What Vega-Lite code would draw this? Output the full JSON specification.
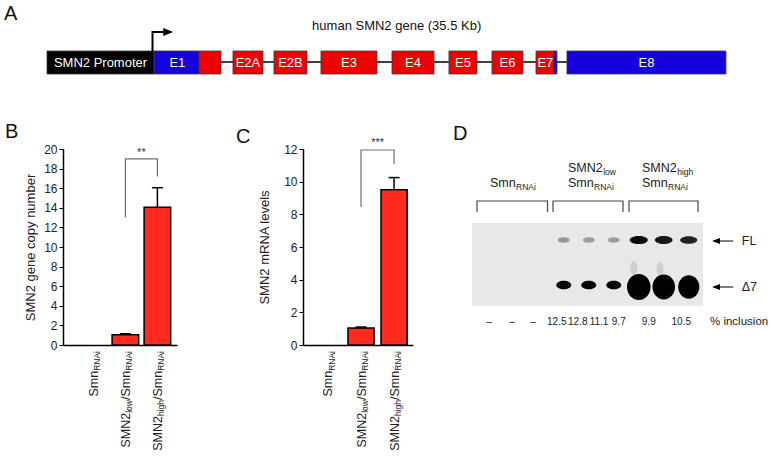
{
  "$schema": "https://vega.github.io/schema/vega-lite/v6.json",
  "padding": {"left": 4, "top": 4, "right": 0, "bottom": 0},
  "bounds": "flush",
  "spacing": 50,
  "config": {"font": "Liberation Sans", "view": {"stroke": null}, "axis": {"labelOverlap": false}, "axisY": {"labelOverlap": false}},
  "datasets": {
    "gene": [
      {"part": "SMN2 Promoter", "kind": "promoter", "start": 0, "end": 15.76, "mid": 7.88, "label": "SMN2 Promoter"},
      {"part": "E1 UTR", "kind": "UTR", "start": 15.76, "end": 22.39, "mid": 19.2, "label": "E1"},
      {"part": "E1 CDS", "kind": "coding", "start": 22.39, "end": 25.63, "mid": 24.0, "label": ""},
      {"part": "E2A", "kind": "coding", "start": 27.39, "end": 31.81, "mid": 29.6, "label": "E2A"},
      {"part": "E2B", "kind": "coding", "start": 33.43, "end": 38.29, "mid": 35.86, "label": "E2B"},
      {"part": "E3", "kind": "coding", "start": 40.35, "end": 48.6, "mid": 44.48, "label": "E3"},
      {"part": "E4", "kind": "coding", "start": 50.81, "end": 57.0, "mid": 53.9, "label": "E4"},
      {"part": "E5", "kind": "coding", "start": 59.2, "end": 63.33, "mid": 61.27, "label": "E5"},
      {"part": "E6", "kind": "coding", "start": 65.54, "end": 70.1, "mid": 67.82, "label": "E6"},
      {"part": "E7 CDS", "kind": "coding", "start": 72.02, "end": 74.67, "mid": 73.4, "label": "E7"},
      {"part": "E7 UTR", "kind": "UTR", "start": 74.67, "end": 75.11, "mid": 74.9, "label": ""},
      {"part": "E8", "kind": "UTR", "start": 76.58, "end": 100, "mid": 88.29, "label": "E8"}
    ],
    "intron": [{"from": 25.63, "to": 76.58}],
    "tss": [
      {"step": 1, "pos": 15.54, "level": 4.8},
      {"step": 2, "pos": 15.54, "level": 6.7},
      {"step": 3, "pos": 17.1, "level": 6.7}
    ],
    "copyB": [
      {"group": "SmnRNAi", "value": 0, "upper": 0, "main0": "", "sub0": "", "main1": "Smn", "sub1": "RNAi"},
      {"group": "SMN2low/SmnRNAi", "value": 1.05, "upper": 1.15, "main0": "SMN2", "sub0": "low", "main1": "/Smn", "sub1": "RNAi"},
      {"group": "SMN2high/SmnRNAi", "value": 14.05, "upper": 16.05, "main0": "SMN2", "sub0": "high", "main1": "/Smn", "sub1": "RNAi"}
    ],
    "bracketB": [
      {"group": "SMN2low/SmnRNAi", "level": 13.0, "step": 1},
      {"group": "SMN2low/SmnRNAi", "level": 19.0, "step": 2},
      {"group": "SMN2high/SmnRNAi", "level": 19.0, "step": 3},
      {"group": "SMN2high/SmnRNAi", "level": 17.2, "step": 4}
    ],
    "sigB": [{"group": "SMN2low/SmnRNAi", "level": 19.3, "text": "**"}],
    "mrnaC": [
      {"group": "SmnRNAi", "value": 0, "upper": 0, "main0": "", "sub0": "", "main1": "Smn", "sub1": "RNAi"},
      {"group": "SMN2low/SmnRNAi", "value": 1.04, "upper": 1.1, "main0": "SMN2", "sub0": "low", "main1": "/Smn", "sub1": "RNAi"},
      {"group": "SMN2high/SmnRNAi", "value": 9.5, "upper": 10.25, "main0": "SMN2", "sub0": "high", "main1": "/Smn", "sub1": "RNAi"}
    ],
    "bracketC": [
      {"group": "SMN2low/SmnRNAi", "level": 8.45, "step": 1},
      {"group": "SMN2low/SmnRNAi", "level": 11.94, "step": 2},
      {"group": "SMN2high/SmnRNAi", "level": 11.94, "step": 3},
      {"group": "SMN2high/SmnRNAi", "level": 11.08, "step": 4}
    ],
    "sigC": [{"group": "SMN2low/SmnRNAi", "level": 12.2, "text": "***"}],
    "gel": [{"x0": 0.33, "x1": 9.57, "y0": 3.7, "y1": 7.85}],
    "bands": [
      {"lane": 4, "band": "FL", "migration": 4.55, "signal": 1.0},
      {"lane": 5, "band": "FL", "migration": 4.55, "signal": 0.9},
      {"lane": 6, "band": "FL", "migration": 4.55, "signal": 0.9},
      {"lane": 7, "band": "FL", "migration": 4.55, "signal": 6.5},
      {"lane": 8, "band": "FL", "migration": 4.55, "signal": 6.0},
      {"lane": 9, "band": "FL", "migration": 4.55, "signal": 5.5},
      {"lane": 6.8, "band": "smear", "migration": 5.95, "signal": 0.4},
      {"lane": 7.85, "band": "smear", "migration": 6.0, "signal": 0.3},
      {"lane": 4, "band": "Δ7", "migration": 6.8, "signal": 7.0},
      {"lane": 5, "band": "Δ7", "migration": 6.8, "signal": 6.1},
      {"lane": 6, "band": "Δ7", "migration": 6.8, "signal": 7.2},
      {"lane": 7, "band": "Δ7", "migration": 6.8, "signal": 60.5},
      {"lane": 8, "band": "Δ7", "migration": 6.8, "signal": 54.6},
      {"lane": 9, "band": "Δ7", "migration": 6.8, "signal": 46.9}
    ],
    "groupsD": [
      {"grp": 1, "lane": 0.53, "level": 3.15, "step": 1},
      {"grp": 1, "lane": 0.53, "level": 2.6, "step": 2},
      {"grp": 1, "lane": 3.35, "level": 2.6, "step": 3},
      {"grp": 1, "lane": 3.35, "level": 3.15, "step": 4},
      {"grp": 2, "lane": 3.57, "level": 3.15, "step": 1},
      {"grp": 2, "lane": 3.57, "level": 2.6, "step": 2},
      {"grp": 2, "lane": 6.37, "level": 2.6, "step": 3},
      {"grp": 2, "lane": 6.37, "level": 3.15, "step": 4},
      {"grp": 3, "lane": 6.61, "level": 3.15, "step": 1},
      {"grp": 3, "lane": 6.61, "level": 2.6, "step": 2},
      {"grp": 3, "lane": 9.37, "level": 2.6, "step": 3},
      {"grp": 3, "lane": 9.37, "level": 3.15, "step": 4}
    ],
    "labelsD": [
      {"lane": 1.05, "level": 1.9, "main": "Smn", "sub": "RNAi"},
      {"lane": 4.17, "level": 1.15, "main": "SMN2", "sub": "low"},
      {"lane": 4.17, "level": 1.9, "main": "Smn", "sub": "RNAi"},
      {"lane": 7.13, "level": 1.15, "main": "SMN2", "sub": "high"},
      {"lane": 7.13, "level": 1.9, "main": "Smn", "sub": "RNAi"}
    ],
    "arrowsD": [
      {"label": "FL", "migration": 4.6, "tip": 10.09, "tail": 10.78, "textpos": 11.12},
      {"label": "Δ7", "migration": 6.9, "tip": 10.09, "tail": 10.78, "textpos": 11.12}
    ],
    "inclusion": [
      {"lane": 1.01, "label": "–"},
      {"lane": 1.93, "label": "–"},
      {"lane": 2.77, "label": "–"},
      {"lane": 3.72, "label": "12.5"},
      {"lane": 4.56, "label": "12.8"},
      {"lane": 5.41, "label": "11.1"},
      {"lane": 6.2, "label": "9.7"},
      {"lane": 7.4, "label": "9.9"},
      {"lane": 8.7, "label": "10.5"}
    ],
    "inclusionTitle": [{"lane": 9.85, "label": "% inclusion"}]
  },
  "vconcat": [
    {
      "width": 709,
      "height": 80,
      "title": {"text": "A", "anchor": "start", "frame": "group", "dx": -59, "offset": -21, "fontSize": 20, "fontWeight": "normal", "baseline": "alphabetic", "color": "#111"},
      "layer": [
        {
          "data": {"name": "intron"},
          "mark": {"type": "rule", "color": "#000", "strokeWidth": 1.5},
          "encoding": {
            "x": {"field": "from", "type": "quantitative", "scale": {"domain": [2.356, 106.78], "nice": false, "zero": false}, "axis": null},
            "x2": {"field": "to"},
            "y": {"datum": 3.7, "type": "quantitative", "scale": {"domain": [0, 8], "nice": false}, "axis": null}
          }
        },
        {
          "data": {"name": "gene"},
          "mark": {"type": "rect", "stroke": "#3a3a3a", "strokeWidth": 0.8},
          "encoding": {
            "x": {"field": "start", "type": "quantitative"},
            "x2": {"field": "end"},
            "y": {"datum": 2.5, "type": "quantitative"},
            "y2": {"datum": 4.8},
            "fill": {"field": "kind", "type": "nominal", "scale": {"domain": ["promoter", "coding", "UTR"], "range": ["#000000", "#f00000", "#1600dc"]}, "legend": null}
          }
        },
        {
          "data": {"name": "gene"},
          "transform": [{"filter": "datum.label != ''"}],
          "mark": {"type": "text", "color": "#ffffff", "fontSize": 13, "baseline": "middle", "align": "center"},
          "encoding": {
            "x": {"field": "mid", "type": "quantitative"},
            "y": {"datum": 3.65, "type": "quantitative"},
            "text": {"field": "label"}
          }
        },
        {
          "data": {"name": "tss"},
          "mark": {"type": "line", "color": "#000", "strokeWidth": 2},
          "encoding": {
            "x": {"field": "pos", "type": "quantitative"},
            "y": {"field": "level", "type": "quantitative"},
            "order": {"field": "step", "type": "quantitative"}
          }
        },
        {
          "data": {"values": [{"pos": 17.85, "level": 6.7}]},
          "mark": {"type": "point", "shape": "M-1,-0.8L1,0L-1,0.8Z", "size": 100, "filled": true, "color": "#000", "opacity": 1},
          "encoding": {
            "x": {"field": "pos", "type": "quantitative"},
            "y": {"field": "level", "type": "quantitative"}
          }
        },
        {
          "data": {"values": [{"pos": 51.5, "level": 6.9, "text": "human SMN2 gene (35.5 Kb)"}]},
          "mark": {"type": "text", "fontSize": 13, "align": "center", "baseline": "alphabetic", "color": "#111"},
          "encoding": {
            "x": {"field": "pos", "type": "quantitative"},
            "y": {"field": "level", "type": "quantitative"},
            "text": {"field": "text"}
          }
        }
      ]
    },
    {
      "hconcat": [
        {
          "width": 114,
          "height": 196,
          "title": {"text": "B", "anchor": "start", "frame": "group", "dx": -58, "offset": -15, "fontSize": 20, "fontWeight": "normal", "baseline": "alphabetic", "color": "#111"},
          "layer": [
            {
              "data": {"name": "copyB"},
              "transform": [{"filter": "datum.value > 0"}],
              "mark": {"type": "bar", "fill": "#ff2b1e", "stroke": "#000", "strokeWidth": 1.5},
              "encoding": {
                "x": {"field": "group", "type": "nominal", "scale": {"domain": ["SmnRNAi", "SMN2low/SmnRNAi", "SMN2high/SmnRNAi"], "paddingInner": 0.17, "paddingOuter": 0.366, "align": 0.73}, "axis": {"labels": false, "ticks": false, "title": null, "domainColor": "#000", "domainWidth": 1.5}},
                "y": {"field": "value", "type": "quantitative", "scale": {"domain": [0, 20], "nice": false}, "axis": {"title": "SMN2 gene copy number", "titleFontSize": 13, "titleFontWeight": "normal", "titleColor": "#222", "titlePadding": 6, "tickCount": 11, "labelOverlap": false, "grid": false, "tickSize": 4, "tickColor": "#000", "labelFontSize": 12, "labelColor": "#222", "labelPadding": 2, "domainColor": "#000", "domainWidth": 1.5}}
              }
            },
            {
              "data": {"name": "copyB"},
              "transform": [{"filter": "datum.upper > datum.value"}],
              "mark": {"type": "rule", "color": "#000", "strokeWidth": 1.5},
              "encoding": {
                "x": {"field": "group", "type": "nominal"},
                "y": {"field": "value", "type": "quantitative"},
                "y2": {"field": "upper"}
              }
            },
            {
              "data": {"name": "copyB"},
              "transform": [{"filter": "datum.upper > datum.value"}],
              "mark": {"type": "tick", "orient": "horizontal", "size": 11, "thickness": 1.5, "color": "#000", "opacity": 1},
              "encoding": {
                "x": {"field": "group", "type": "nominal"},
                "y": {"field": "upper", "type": "quantitative"}
              }
            },
            {
              "data": {"name": "bracketB"},
              "mark": {"type": "line", "color": "#707070", "strokeWidth": 1.2},
              "encoding": {
                "x": {"field": "group", "type": "nominal"},
                "y": {"field": "level", "type": "quantitative"},
                "order": {"field": "step", "type": "quantitative"}
              }
            },
            {
              "data": {"name": "sigB"},
              "mark": {"type": "text", "fontSize": 11, "align": "center", "baseline": "alphabetic", "color": "#333"},
              "encoding": {
                "x": {"field": "group", "type": "nominal", "bandPosition": 1.102},
                "y": {"field": "level", "type": "quantitative"},
                "text": {"field": "text"}
              }
            },
            {
              "data": {"name": "copyB"},
              "mark": {"type": "text", "angle": 270, "align": "right", "baseline": "alphabetic", "fontSize": 8.5, "dx": -6, "dy": 7, "color": "#222"},
              "encoding": {
                "x": {"field": "group", "type": "nominal"},
                "y": {"datum": 0, "type": "quantitative"},
                "text": {"field": "sub1"}
              }
            },
            {
              "data": {"name": "copyB"},
              "mark": {"type": "text", "angle": 270, "align": "right", "baseline": "alphabetic", "fontSize": 12.5, "dx": -25.8, "dy": 4.5, "color": "#222"},
              "encoding": {
                "x": {"field": "group", "type": "nominal"},
                "y": {"datum": 0, "type": "quantitative"},
                "text": {"field": "main1"}
              }
            },
            {
              "data": {"name": "copyB"},
              "transform": [{"filter": "datum.sub0 != ''"}],
              "mark": {"type": "text", "angle": 270, "align": "right", "baseline": "alphabetic", "fontSize": 8.5, "dx": -55, "dy": 7, "color": "#222"},
              "encoding": {
                "x": {"field": "group", "type": "nominal"},
                "y": {"datum": 0, "type": "quantitative"},
                "text": {"field": "sub0"}
              }
            },
            {
              "data": {"name": "copyB"},
              "transform": [{"filter": "datum.sub0 == 'low'"}],
              "mark": {"type": "text", "angle": 270, "align": "right", "baseline": "alphabetic", "fontSize": 12.5, "dx": -67.75, "dy": 4.5, "color": "#222"},
              "encoding": {
                "x": {"field": "group", "type": "nominal"},
                "y": {"datum": 0, "type": "quantitative"},
                "text": {"field": "main0"}
              }
            },
            {
              "data": {"name": "copyB"},
              "transform": [{"filter": "datum.sub0 == 'high'"}],
              "mark": {"type": "text", "angle": 270, "align": "right", "baseline": "alphabetic", "fontSize": 12.5, "dx": -71.1, "dy": 4.5, "color": "#222"},
              "encoding": {
                "x": {"field": "group", "type": "nominal"},
                "y": {"datum": 0, "type": "quantitative"},
                "text": {"field": "main0"}
              }
            }
          ]
        },
        {
          "hconcat": [
            {
              "width": 110,
              "height": 196,
              "title": {"text": "C", "anchor": "start", "frame": "group", "dx": -67, "offset": -26, "fontSize": 20, "fontWeight": "normal", "baseline": "alphabetic", "color": "#111"},
              "layer": [
                {
                  "data": {"name": "mrnaC"},
                  "transform": [{"filter": "datum.value > 0"}],
                  "mark": {"type": "bar", "fill": "#ff2b1e", "stroke": "#000", "strokeWidth": 1.5},
                  "encoding": {
                    "x": {"field": "group", "type": "nominal", "scale": {"domain": ["SmnRNAi", "SMN2low/SmnRNAi", "SMN2high/SmnRNAi"], "paddingInner": 0.21, "paddingOuter": 0.27, "align": 0.67}, "axis": {"labels": false, "ticks": false, "title": null, "domainColor": "#000", "domainWidth": 1.5}},
                    "y": {"field": "value", "type": "quantitative", "scale": {"domain": [0, 12], "nice": false}, "axis": {"title": "SMN2 mRNA levels", "titleFontSize": 13, "titleFontWeight": "normal", "titleColor": "#222", "titlePadding": 12, "tickCount": 7, "labelOverlap": false, "grid": false, "tickSize": 4, "tickColor": "#000", "labelFontSize": 12, "labelColor": "#222", "labelPadding": 2, "domainColor": "#000", "domainWidth": 1.5}}
                  }
                },
                {
                  "data": {"name": "mrnaC"},
                  "transform": [{"filter": "datum.upper > datum.value"}],
                  "mark": {"type": "rule", "color": "#000", "strokeWidth": 1.5},
                  "encoding": {
                    "x": {"field": "group", "type": "nominal"},
                    "y": {"field": "value", "type": "quantitative"},
                    "y2": {"field": "upper"}
                  }
                },
                {
                  "data": {"name": "mrnaC"},
                  "transform": [{"filter": "datum.upper > datum.value"}],
                  "mark": {"type": "tick", "orient": "horizontal", "size": 11, "thickness": 1.5, "color": "#000", "opacity": 1},
                  "encoding": {
                    "x": {"field": "group", "type": "nominal"},
                    "y": {"field": "upper", "type": "quantitative"}
                  }
                },
                {
                  "data": {"name": "bracketC"},
                  "mark": {"type": "line", "color": "#707070", "strokeWidth": 1.2},
                  "encoding": {
                    "x": {"field": "group", "type": "nominal"},
                    "y": {"field": "level", "type": "quantitative"},
                    "order": {"field": "step", "type": "quantitative"}
                  }
                },
                {
                  "data": {"name": "sigC"},
                  "mark": {"type": "text", "fontSize": 11, "align": "center", "baseline": "alphabetic", "color": "#333"},
                  "encoding": {
                    "x": {"field": "group", "type": "nominal", "bandPosition": 1.133},
                    "y": {"field": "level", "type": "quantitative"},
                    "text": {"field": "text"}
                  }
                },
                {
                  "data": {"name": "mrnaC"},
                  "mark": {"type": "text", "angle": 270, "align": "right", "baseline": "alphabetic", "fontSize": 8.5, "dx": -6, "dy": 7, "color": "#222"},
                  "encoding": {
                    "x": {"field": "group", "type": "nominal"},
                    "y": {"datum": 0, "type": "quantitative"},
                    "text": {"field": "sub1"}
                  }
                },
                {
                  "data": {"name": "mrnaC"},
                  "mark": {"type": "text", "angle": 270, "align": "right", "baseline": "alphabetic", "fontSize": 12.5, "dx": -25.8, "dy": 4.5, "color": "#222"},
                  "encoding": {
                    "x": {"field": "group", "type": "nominal"},
                    "y": {"datum": 0, "type": "quantitative"},
                    "text": {"field": "main1"}
                  }
                },
                {
                  "data": {"name": "mrnaC"},
                  "transform": [{"filter": "datum.sub0 != ''"}],
                  "mark": {"type": "text", "angle": 270, "align": "right", "baseline": "alphabetic", "fontSize": 8.5, "dx": -55, "dy": 7, "color": "#222"},
                  "encoding": {
                    "x": {"field": "group", "type": "nominal"},
                    "y": {"datum": 0, "type": "quantitative"},
                    "text": {"field": "sub0"}
                  }
                },
                {
                  "data": {"name": "mrnaC"},
                  "transform": [{"filter": "datum.sub0 == 'low'"}],
                  "mark": {"type": "text", "angle": 270, "align": "right", "baseline": "alphabetic", "fontSize": 12.5, "dx": -67.75, "dy": 4.5, "color": "#222"},
                  "encoding": {
                    "x": {"field": "group", "type": "nominal"},
                    "y": {"datum": 0, "type": "quantitative"},
                    "text": {"field": "main0"}
                  }
                },
                {
                  "data": {"name": "mrnaC"},
                  "transform": [{"filter": "datum.sub0 == 'high'"}],
                  "mark": {"type": "text", "angle": 270, "align": "right", "baseline": "alphabetic", "fontSize": 12.5, "dx": -71.1, "dy": 4.5, "color": "#222"},
                  "encoding": {
                    "x": {"field": "group", "type": "nominal"},
                    "y": {"datum": 0, "type": "quantitative"},
                    "text": {"field": "main0"}
                  }
                }
              ]
            },
            {
              "width": 300,
              "height": 196,
              "title": {"text": "D", "anchor": "start", "frame": "group", "dx": -17, "offset": -11, "fontSize": 20, "fontWeight": "normal", "baseline": "alphabetic", "color": "#111"},
              "resolve": {"scale": {"size": "independent", "color": "independent"}},
              "layer": [
                {
                  "data": {"name": "gel"},
                  "mark": {"type": "rect", "fill": "#e8e8e8"},
                  "encoding": {
                    "x": {"field": "x0", "type": "quantitative", "scale": {"domain": [0.25, 12.25], "nice": false, "zero": false}, "axis": null},
                    "x2": {"field": "x1"},
                    "y": {"field": "y0", "type": "quantitative", "scale": {"domain": [0, 9.8], "nice": false, "zero": false, "reverse": true}, "axis": null},
                    "y2": {"field": "y1"}
                  }
                },
                {
                  "data": {"name": "bands"},
                  "transform": [{"filter": "datum.band == 'smear'"}],
                  "mark": {"type": "point", "shape": "M-0.5,0A0.5,1,0,1,0,0.5,0A0.5,1,0,1,0,-0.5,0", "size": 200, "filled": true, "opacity": 0.35, "color": "#a0a0a0"},
                  "encoding": {
                    "x": {"field": "lane", "type": "quantitative"},
                    "y": {"field": "migration", "type": "quantitative"}
                  }
                },
                {
                  "data": {"name": "bands"},
                  "transform": [{"filter": "datum.band == 'FL'"}],
                  "mark": {"type": "point", "shape": "M-1,0A1,0.45,0,1,0,1,0A1,0.45,0,1,0,-1,0", "filled": true, "opacity": 1},
                  "encoding": {
                    "x": {"field": "lane", "type": "quantitative"},
                    "y": {"field": "migration", "type": "quantitative"},
                    "size": {"field": "signal", "type": "quantitative", "scale": {"domain": [0.9, 6.5], "range": [140, 330], "zero": false}, "legend": null},
                    "color": {"field": "signal", "type": "quantitative", "scale": {"domain": [0.9, 6.5], "range": ["#9c9c9c", "#080808"], "zero": false}, "legend": null}
                  }
                },
                {
                  "data": {"name": "bands"},
                  "transform": [{"filter": "datum.band == 'Δ7' && datum.signal < 20"}],
                  "mark": {"type": "point", "shape": "M-1,0A1,0.58,0,1,0,1,0A1,0.58,0,1,0,-1,0", "size": 225, "filled": true, "opacity": 1, "color": "#060606"},
                  "encoding": {
                    "x": {"field": "lane", "type": "quantitative"},
                    "y": {"field": "migration", "type": "quantitative"}
                  }
                },
                {
                  "data": {"name": "bands"},
                  "transform": [{"filter": "datum.band == 'Δ7' && datum.signal >= 20"}],
                  "mark": {"type": "point", "shape": "M-1,0A1,1.1,0,1,0,1,0A1,1.1,0,1,0,-1,0", "filled": true, "opacity": 1, "color": "#020202", "yOffset": 2},
                  "encoding": {
                    "x": {"field": "lane", "type": "quantitative"},
                    "y": {"field": "migration", "type": "quantitative"},
                    "size": {"field": "signal", "type": "quantitative", "scale": {"domain": [46, 61], "range": [440, 560], "zero": false}, "legend": null}
                  }
                },
                {
                  "data": {"name": "groupsD"},
                  "mark": {"type": "line", "color": "#444", "strokeWidth": 1.2},
                  "encoding": {
                    "x": {"field": "lane", "type": "quantitative"},
                    "y": {"field": "level", "type": "quantitative"},
                    "detail": {"field": "grp", "type": "nominal"},
                    "order": {"field": "step", "type": "quantitative"}
                  }
                },
                {
                  "data": {"name": "labelsD"},
                  "mark": {"type": "text", "align": "left", "baseline": "alphabetic", "fontSize": 12.5, "color": "#222"},
                  "encoding": {
                    "x": {"field": "lane", "type": "quantitative"},
                    "y": {"field": "level", "type": "quantitative"},
                    "text": {"field": "main"}
                  }
                },
                {
                  "data": {"name": "labelsD"},
                  "transform": [{"filter": "datum.main == 'Smn'"}],
                  "mark": {"type": "text", "align": "left", "baseline": "alphabetic", "fontSize": 8.5, "dx": 26, "dy": 3, "color": "#222"},
                  "encoding": {
                    "x": {"field": "lane", "type": "quantitative"},
                    "y": {"field": "level", "type": "quantitative"},
                    "text": {"field": "sub"}
                  }
                },
                {
                  "data": {"name": "labelsD"},
                  "transform": [{"filter": "datum.main == 'SMN2'"}],
                  "mark": {"type": "text", "align": "left", "baseline": "alphabetic", "fontSize": 8.5, "dx": 35.2, "dy": 3, "color": "#222"},
                  "encoding": {
                    "x": {"field": "lane", "type": "quantitative"},
                    "y": {"field": "level", "type": "quantitative"},
                    "text": {"field": "sub"}
                  }
                },
                {
                  "data": {"name": "arrowsD"},
                  "mark": {"type": "rule", "color": "#000", "strokeWidth": 1},
                  "encoding": {
                    "x": {"field": "tip", "type": "quantitative"},
                    "x2": {"field": "tail"},
                    "y": {"field": "migration", "type": "quantitative"}
                  }
                },
                {
                  "data": {"name": "arrowsD"},
                  "mark": {"type": "point", "shape": "M-1,0L1,-0.75L1,0.75Z", "size": 64, "filled": true, "opacity": 1, "color": "#000"},
                  "encoding": {
                    "x": {"field": "tip", "type": "quantitative"},
                    "y": {"field": "migration", "type": "quantitative"}
                  }
                },
                {
                  "data": {"name": "arrowsD"},
                  "mark": {"type": "text", "align": "left", "baseline": "middle", "fontSize": 12.5, "color": "#222"},
                  "encoding": {
                    "x": {"field": "textpos", "type": "quantitative"},
                    "y": {"field": "migration", "type": "quantitative"},
                    "text": {"field": "label"}
                  }
                },
                {
                  "data": {"name": "inclusion"},
                  "mark": {"type": "text", "align": "center", "baseline": "middle", "fontSize": 10, "color": "#222"},
                  "encoding": {
                    "x": {"field": "lane", "type": "quantitative"},
                    "y": {"datum": 8.65, "type": "quantitative"},
                    "text": {"field": "label"}
                  }
                },
                {
                  "data": {"name": "inclusionTitle"},
                  "mark": {"type": "text", "align": "left", "baseline": "middle", "fontSize": 11.5, "color": "#222"},
                  "encoding": {
                    "x": {"field": "lane", "type": "quantitative"},
                    "y": {"datum": 8.65, "type": "quantitative"},
                    "text": {"field": "label"}
                  }
                }
              ]
            }
          ],
          "spacing": 57,
          "bounds": "flush"
        }
      ],
      "spacing": 126,
      "bounds": "flush"
    }
  ]
}
